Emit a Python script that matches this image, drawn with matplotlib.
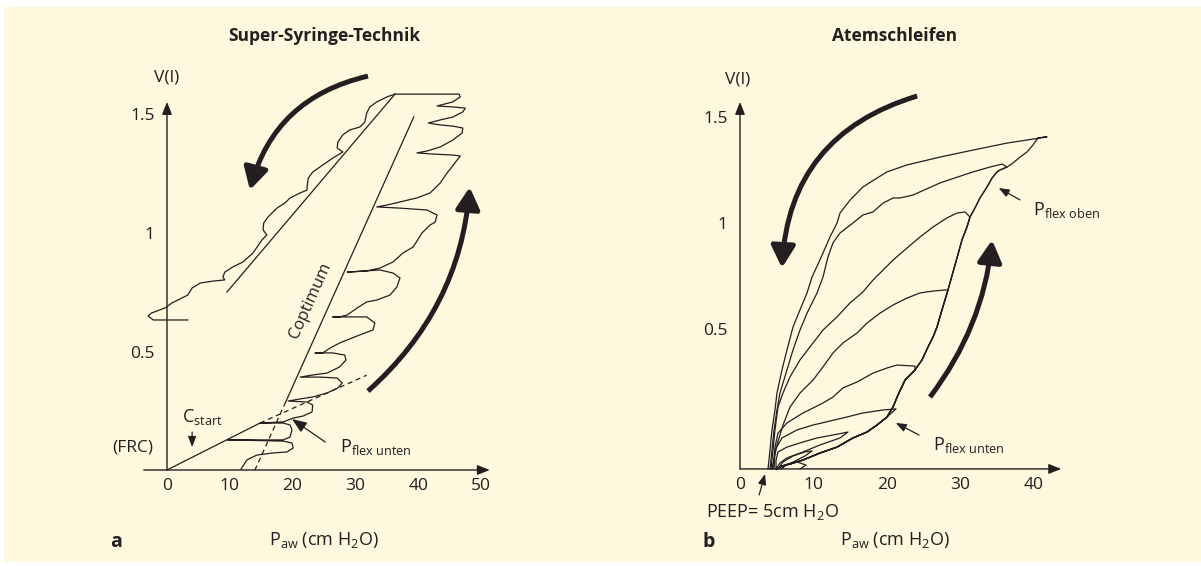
import numpy as np
import matplotlib.pyplot as plt
from matplotlib.patches import Rectangle, FancyArrowPatch

plt.rcParams['font.family'] = ['Open Sans', 'DejaVu Sans']
plt.rcParams['mathtext.fontset'] = 'custom'
plt.rcParams['mathtext.rm'] = 'Open Sans'
plt.rcParams['mathtext.it'] = 'Open Sans:italic'
plt.rcParams['mathtext.bf'] = 'Open Sans:bold'

INK = '#231f20'
CREAM = '#fdf8de'
W, H = 1201, 566

# ---------------- panel a: super syringe (P in cm H2O, V in l)
a_xticks = [0, 10, 20, 30, 40, 50]
a_yticks = [0.5, 1, 1.5]
# inflation staircase, bottom -> top, then over the top to the deflation start
a_inflation = np.array([
    (11.8, 0.004), (12.7, 0.042), (14.3, 0.063), (16.9, 0.072), (19.1, 0.076), (20.1, 0.093),
    (19.9, 0.114), (18.5, 0.122), (9.6, 0.127), (18.5, 0.127), (19.6, 0.139), (19.9, 0.169),
    (19.6, 0.190), (18.5, 0.198), (14.8, 0.198), (18.5, 0.203), (20.1, 0.219), (21.7, 0.228),
    (23.1, 0.245), (23.2, 0.274), (22.3, 0.287), (19.3, 0.291), (21.2, 0.300), (23.2, 0.308),
    (25.5, 0.325), (27.2, 0.346), (27.9, 0.367), (27.1, 0.388), (24.4, 0.392), (21.2, 0.392),
    (23.2, 0.401), (25.5, 0.409), (27.5, 0.435), (28.5, 0.464), (28.3, 0.485), (26.4, 0.494),
    (23.6, 0.494), (24.8, 0.494), (26.0, 0.515), (27.5, 0.536), (30.7, 0.570), (32.8, 0.591),
    (33.1, 0.620), (31.8, 0.646), (29.6, 0.646), (26.4, 0.646), (27.5, 0.646), (28.7, 0.654),
    (30.3, 0.684), (31.8, 0.709), (33.4, 0.717), (35.5, 0.738), (36.6, 0.772), (37.1, 0.810),
    (36.0, 0.831), (33.9, 0.844), (28.7, 0.835), (31.8, 0.840), (33.9, 0.852), (36.0, 0.878),
    (37.6, 0.916), (39.2, 0.941), (40.6, 1.000), (41.9, 1.034), (42.7, 1.046), (43.0, 1.076),
    (41.4, 1.097), (37.1, 1.105), (33.4, 1.110), (35.0, 1.118), (37.1, 1.131), (39.8, 1.148),
    (41.9, 1.169), (43.5, 1.211), (44.6, 1.253), (46.2, 1.308), (46.7, 1.325), (45.5, 1.329),
    (42.4, 1.333), (39.8, 1.338), (41.4, 1.346), (43.5, 1.363), (45.5, 1.392), (47.0, 1.422),
    (47.1, 1.443), (45.5, 1.451), (43.5, 1.456), (41.6, 1.464), (43.5, 1.477), (45.5, 1.489),
    (47.1, 1.511), (47.5, 1.527), (45.5, 1.532), (43.0, 1.536), (45.5, 1.553), (46.7, 1.574),
    (46.5, 1.586), (36.3, 1.586)])
# deflation, top -> bottom
a_deflation = np.array([
    (36.3, 1.586), (35.0, 1.574), (33.4, 1.553), (32.3, 1.532), (31.8, 1.506), (31.5, 1.468),
    (30.7, 1.447), (29.1, 1.435), (28.0, 1.414), (27.2, 1.384), (27.1, 1.359), (28.0, 1.342),
    (26.4, 1.316), (24.8, 1.287), (23.2, 1.257), (22.5, 1.232), (22.3, 1.194), (22.3, 1.181),
    (21.2, 1.169), (19.6, 1.148), (18.8, 1.127), (17.5, 1.105), (16.1, 1.068), (15.4, 1.042),
    (15.3, 1.013), (15.9, 0.992), (15.1, 0.970), (13.7, 0.916), (12.1, 0.878), (10.5, 0.857),
    (9.2, 0.835), (8.9, 0.814), (9.2, 0.802), (7.3, 0.797), (5.3, 0.789), (4.0, 0.768),
    (3.3, 0.738), (0.8, 0.705), (-0.3, 0.684), (-2.5, 0.662), (-3.0, 0.650), (-2.2, 0.633),
    (0.3, 0.633), (3.3, 0.633)])
a_defl_tangent = np.array([(36.3, 1.586), (9.55, 0.751)])
a_copt_solid = np.array([(39.3, 1.49), (18.9, 0.287)])
a_copt_dash = np.array([(18.9, 0.287), (14.0, 0.0)])
a_cstart_solid = np.array([(0.0, 0.0), (14.8, 0.198)])
a_cstart_dash = np.array([(14.8, 0.198), (31.8, 0.40)])

# ---------------- panel b: breathing loops
b_xticks = [0, 10, 20, 30, 40]
b_yticks = [0.5, 1, 1.5]
b_baseline = -0.16
# common inflation limb, bottom -> top
b_inflation = np.array([
    (5.03, -0.160), (5.71, -0.146), (6.80, -0.137), (8.57, -0.118), (10.88, -0.085),
    (13.20, -0.057), (15.37, -0.014), (17.28, 0.014), (18.64, 0.047), (20.00, 0.085),
    (20.82, 0.132), (21.50, 0.189), (22.45, 0.259), (23.81, 0.307), (24.76, 0.354),
    (25.58, 0.415), (26.26, 0.462), (26.80, 0.509), (27.48, 0.590), (28.30, 0.684),
    (28.98, 0.769), (29.52, 0.835), (30.20, 0.920), (30.88, 0.981), (31.29, 1.028),
    (31.97, 1.071), (32.65, 1.118), (33.61, 1.170), (34.29, 1.212), (34.97, 1.241),
    (35.37, 1.250), (36.33, 1.264), (37.14, 1.283), (38.10, 1.311), (39.05, 1.335),
    (39.86, 1.368), (40.54, 1.401), (41.50, 1.406)])
# deflation limbs, from each loop's peak down to PEEP
b_defl_1 = np.array([
    (41.77, 1.406), (36.33, 1.377), (31.70, 1.344), (27.21, 1.311), (22.72, 1.274), (20.00, 1.241),
    (18.64, 1.212), (16.73, 1.170), (14.97, 1.108), (13.61, 1.047), (13.20, 1.000), (12.24, 0.934),
    (11.29, 0.858), (9.80, 0.745), (9.12, 0.670), (8.16, 0.590), (7.21, 0.509), (6.39, 0.401),
    (5.71, 0.307), (5.03, 0.198), (4.76, 0.118), (4.35, 0.024), (4.08, -0.071), (3.81, -0.160)])
b_defl_2 = np.array([
    (35.65, 1.278), (34.01, 1.264), (31.70, 1.241), (27.21, 1.189), (23.54, 1.132), (21.77, 1.118),
    (20.82, 1.118), (19.46, 1.094), (18.10, 1.052), (16.73, 1.038), (15.37, 1.000), (13.61, 0.953),
    (12.65, 0.906), (11.97, 0.840), (11.29, 0.745), (10.48, 0.670), (9.12, 0.575), (8.16, 0.495),
    (7.21, 0.401), (6.39, 0.307), (5.44, 0.198), (5.03, 0.118), (4.63, 0.024), (4.35, -0.071),
    (4.08, -0.160)])
b_defl_3 = np.array([
    (30.61, 1.052), (29.52, 1.047), (28.16, 1.024), (26.26, 0.981), (24.49, 0.934), (22.72, 0.882),
    (20.82, 0.825), (19.46, 0.778), (18.10, 0.731), (16.73, 0.675), (14.97, 0.623), (13.20, 0.557),
    (11.29, 0.495), (9.93, 0.434), (8.16, 0.354), (6.80, 0.274), (5.85, 0.198), (5.17, 0.132),
    (4.76, 0.024), (4.49, -0.071), (4.22, -0.160)])
b_defl_4 = np.array([
    (27.89, 0.684), (26.26, 0.679), (24.49, 0.670), (22.72, 0.646), (20.82, 0.613), (19.05, 0.575),
    (17.28, 0.528), (15.92, 0.481), (14.01, 0.434), (12.65, 0.387), (11.29, 0.321), (9.93, 0.259),
    (8.16, 0.198), (6.80, 0.132), (5.85, 0.047), (5.03, -0.047), (4.35, -0.160)])
b_defl_5 = np.array([
    (23.81, 0.325), (21.36, 0.330), (20.00, 0.316), (18.10, 0.292), (15.92, 0.250), (14.01, 0.222),
    (12.65, 0.179), (11.29, 0.151), (9.93, 0.127), (8.57, 0.104), (6.39, 0.057), (5.17, 0.009),
    (4.76, -0.057), (4.49, -0.160)])
b_defl_6 = np.array([
    (21.22, 0.123), (19.46, 0.118), (16.73, 0.104), (14.56, 0.085), (12.24, 0.066), (9.93, 0.047),
    (7.76, 0.024), (5.71, -0.014), (4.76, -0.071), (4.63, -0.160)])
b_small_loops = [
    np.array([(4.90, -0.160), (5.44, -0.132), (6.39, -0.108), (8.57, -0.080), (10.88, -0.047),
              (13.61, -0.014), (14.69, 0.014), (12.65, 0.0), (10.48, -0.014), (8.57, -0.033),
              (6.39, -0.057), (5.17, -0.080), (4.90, -0.118), (4.90, -0.160)]),
    np.array([(5.17, -0.160), (5.85, -0.127), (7.21, -0.099), (8.84, -0.080), (9.80, -0.075),
              (8.84, -0.099), (7.48, -0.123), (6.12, -0.146), (5.60, -0.160)]),
    np.array([(5.58, -0.160), (6.39, -0.137), (7.76, -0.127), (8.98, -0.142), (8.16, -0.160)]),
]

fig = plt.figure(figsize=(W / 100, H / 100), dpi=100)
fig.patch.set_facecolor('white')
fig.patches.append(Rectangle((4 / W, 4 / H), 1 - 4 / W, 555 / H, transform=fig.transFigure,
                             facecolor=CREAM, edgecolor='none', zorder=-10))


def make_axes(x0, x1, y0, y1, xlim, ylim):
    # pixel box measured from the top-left corner of the picture
    ax = fig.add_axes([x0 / W, 1 - y1 / H, (x1 - x0) / W, (y1 - y0) / H])
    ax.set_xlim(xlim)
    ax.set_ylim(ylim)
    ax.patch.set_visible(False)
    for s in ax.spines.values():
        s.set_visible(False)
    ax.tick_params(length=0, labelsize=12.5, colors=INK)
    return ax


def axis_arrow(ax, start, end):
    ax.annotate('', xy=end, xytext=start,
                arrowprops=dict(arrowstyle='-|>,head_length=0.75,head_width=0.3', lw=1.0,
                                color=INK, shrinkA=0, shrinkB=0, mutation_scale=10))


def big_arrow(ax, start, end, rad):
    ax.add_patch(FancyArrowPatch(start, end, connectionstyle=f'arc3,rad={rad}',
                                 arrowstyle='-|>,head_length=0.6,head_width=0.33',
                                 mutation_scale=22, lw=3.6, color=INK,
                                 shrinkA=0, shrinkB=0, capstyle='butt'))


def small_arrow(ax, start, end, size=7):
    ax.annotate('', xy=end, xytext=start,
                arrowprops=dict(arrowstyle='-|>,head_length=0.9,head_width=0.35', lw=0.9,
                                color=INK, shrinkA=0, shrinkB=0, mutation_scale=size))


line_kw = dict(color=INK, lw=0.9, solid_joinstyle='round')
dash_kw = dict(color=INK, lw=0.9, dashes=(4, 3))

# ---------- panel a
ax = make_axes(167 - 5 * 6.28, 167 + 53 * 6.28, 470 - 1.75 * 237, 470 + 0.3 * 237, (-5, 53), (-0.3, 1.75))
ax.spines['bottom'].set_position(('data', 0))
ax.spines['left'].set_position(('data', 0))
ax.set_xticks(a_xticks, [str(t) for t in a_xticks])
ax.set_yticks(a_yticks, ['0.5', '1', '1.5'])
ax.tick_params(axis='x', pad=6)
ax.tick_params(axis='y', pad=9)
axis_arrow(ax, (-3.7, 0), (51.4, 0))
axis_arrow(ax, (0, 0), (0, 1.553))

ax.plot(*a_inflation.T, **line_kw)
ax.plot(*a_deflation.T, **line_kw)
ax.plot(*a_defl_tangent.T, **line_kw)
ax.plot(*a_copt_solid.T, **line_kw)
ax.plot(*a_copt_dash.T, **dash_kw)
ax.plot(*a_cstart_solid.T, **line_kw)
ax.plot(*a_cstart_dash.T, **dash_kw)

big_arrow(ax, (32.0, 1.662), (13.2, 1.181), 0.3)
big_arrow(ax, (32.0, 0.333), (48.2, 1.194), 0.2)

p1 = ax.transData.transform(a_copt_solid[1])
p2 = ax.transData.transform(a_copt_solid[0])
ang = np.degrees(np.arctan2(p2[1] - p1[1], p2[0] - p1[0]))
ax.text(22.9, 0.717, 'Coptimum', rotation=ang, ha='center', va='center', fontsize=12, color=INK)
ax.text(2.4, 0.224, r'C$_\mathregular{start}$', ha='left', va='center', fontsize=13, color=INK)
small_arrow(ax, (4.0, 0.160), (4.0, 0.097))
ax.text(-2.2, 0.097, '(FRC)', ha='right', va='center', fontsize=12.5, color=INK)
ax.text(27.5, 0.097, r'P$_\mathregular{flex\ unten}$', ha='left', va='center', fontsize=13, color=INK)
small_arrow(ax, (25.2, 0.118), (19.9, 0.215), size=10)

# ---------- panel b
ax = make_axes(740 - 5 * 7.35, 740 + 45 * 7.35, 435 - 1.75 * 212, 435 + 0.55 * 212, (-5, 45), (-0.55, 1.75))
ax.spines['bottom'].set_position(('data', b_baseline))
ax.spines['left'].set_position(('data', 0))
ax.set_xticks(b_xticks, [str(t) for t in b_xticks])
ax.set_yticks(b_yticks, ['0.5', '1', '1.5'])
ax.tick_params(axis='x', pad=6)
ax.tick_params(axis='y', pad=9)
axis_arrow(ax, (0, b_baseline), (43.7, b_baseline))
axis_arrow(ax, (0, b_baseline), (0, 1.571))

for defl in [b_defl_1, b_defl_2, b_defl_3, b_defl_4, b_defl_5, b_defl_6]:
    up = b_inflation[b_inflation[:, 1] <= defl[0, 1]]
    loop = np.vstack([up, defl])
    ax.plot(*loop.T, **line_kw)
for loop in b_small_loops:
    ax.plot(*loop.T, **line_kw)

big_arrow(ax, (24.1, 1.599), (5.71, 0.788), 0.35)
big_arrow(ax, (25.85, 0.179), (34.3, 0.92), 0.14)

ax.text(39.9, 1.061, r'P$_\mathregular{flex\ oben}$', ha='left', va='center', fontsize=13, color=INK)
small_arrow(ax, (38.1, 1.109), (35.2, 1.165))
ax.text(26.3, -0.047, r'P$_\mathregular{flex\ unten}$', ha='left', va='center', fontsize=13, color=INK)
small_arrow(ax, (24.35, 0.0), (21.2, 0.057))
small_arrow(ax, (2.6, -0.283), (3.4, -0.184))

# ---------- free text
def ftext(x, y, s, **kw):
    fig.text(x / W, 1 - y / H, s, color=INK, va='center', **kw)


ftext(324, 36, 'Super-Syringe-Technik', ha='center', fontsize=12.5, fontweight='bold')
ftext(895, 36, 'Atemschleifen', ha='center', fontsize=12.5, fontweight='bold')
ftext(167, 78, 'V(l)', ha='center', fontsize=12.5)
ftext(738, 79, 'V(l)', ha='center', fontsize=12.5)
ftext(324, 540, r'P$_\mathregular{aw}$ (cm H$_\mathregular{2}$O)', ha='center', fontsize=13)
ftext(895, 540, r'P$_\mathregular{aw}$ (cm H$_\mathregular{2}$O)', ha='center', fontsize=13)
ftext(706, 512, r'PEEP= 5cm H$_\mathregular{2}$O', ha='left', fontsize=13)
ftext(110, 542, 'a', ha='left', fontsize=14, fontweight='bold')
ftext(703, 542, 'b', ha='left', fontsize=14, fontweight='bold')

fig.savefig('out.png', dpi=100, facecolor=fig.get_facecolor())
